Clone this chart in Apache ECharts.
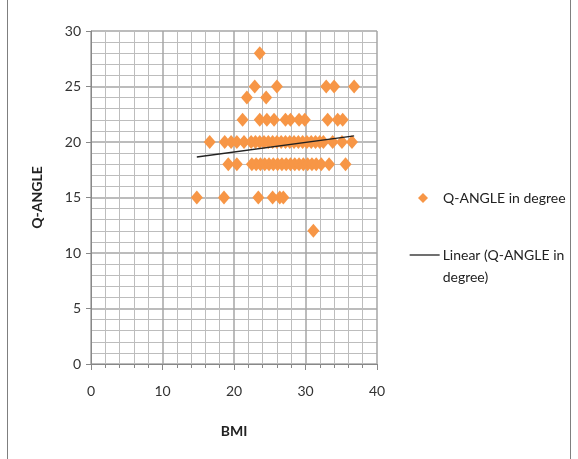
<!DOCTYPE html>
<html>
<head>
<meta charset="utf-8">
<script src="https://cdn.jsdelivr.net/npm/echarts@6/dist/echarts.min.js"></script>
<style>
html,body{margin:0;padding:0;background:#fff;}
#chart{width:578px;height:459px;}
</style>
</head>
<body>
<div id="chart"></div>
<script>
// BMI values (x) grouped by Q-angle rows
const bmiValues = [
  23.6,
  22.9, 26.0, 32.9, 34.0, 36.8,
  21.8, 24.5,
  21.2, 23.6, 24.6, 25.6, 27.2, 27.9, 29.1, 29.9, 33.1, 34.5, 35.2,
  16.6, 18.7, 19.6, 20.4, 21.4, 22.4, 23.0, 23.6, 24.2, 24.8, 25.4, 26.0, 26.6, 27.2, 27.8, 28.4, 29.0, 29.6, 30.2, 30.8, 31.4, 32.0, 32.5, 33.8, 35.1, 36.5,
  19.2, 20.4, 22.5, 23.1, 23.7, 24.3, 24.9, 25.5, 26.1, 26.7, 27.3, 27.9, 28.5, 29.1, 29.7, 30.3, 30.9, 31.5, 32.2, 33.3, 35.6,
  14.8, 18.6, 23.4, 25.4, 26.4, 26.9,
  31.1
];
// Q-angle values (y)
const qAngleValues = [
  28,
  25, 25, 25, 25, 25,
  24, 24,
  22, 22, 22, 22, 22, 22, 22, 22, 22, 22, 22,
  20, 20, 20, 20, 20, 20, 20, 20, 20, 20, 20, 20, 20, 20, 20, 20, 20, 20, 20, 20, 20, 20, 20, 20, 20, 20,
  18, 18, 18, 18, 18, 18, 18, 18, 18, 18, 18, 18, 18, 18, 18, 18, 18, 18, 18, 18, 18,
  15, 15, 15, 15, 15, 15,
  12
];
// Linear trend line endpoints
const trendBmi = [14.8, 36.8];
const trendQ = [18.65, 20.55];
// Axis ticks
const xTicks = [0, 10, 20, 30, 40];
const yTicks = [0, 5, 10, 15, 20, 25, 30];

const seriesName = 'Q-ANGLE in degree';
const trendName = 'Linear (Q-ANGLE in\ndegree)';

const scatterData = bmiValues.map((b, i) => [b, qAngleValues[i]]);
const trendData = trendBmi.map((b, i) => [b, trendQ[i]]);

const font = 'Lato, "Open Sans", sans-serif';
const chart = echarts.init(document.getElementById('chart'), null, {renderer: 'canvas'});
chart.setOption({
  animation: false,
  backgroundColor: '#fff',
  textStyle: {fontFamily: font},
  grid: {left: 91, top: 31, width: 286, height: 333, containLabel: false},
  graphic: [{
    type: 'rect', shape: {x: 7.5, y: -2, width: 563, height: 470},
    style: {fill: 'none', stroke: '#7f7f7f', lineWidth: 1}, silent: true, z: 0
  }],
  xAxis: {
    type: 'value', min: xTicks[0], max: xTicks[xTicks.length - 1], interval: 10,
    name: 'BMI', nameLocation: 'middle', nameGap: 60,
    nameTextStyle: {fontFamily: font, fontWeight: 'bold', fontSize: 14, color: '#222'},
    axisLine: {show: true, onZero: false, lineStyle: {color: '#888', width: 1}},
    axisTick: {show: true, length: 6, lineStyle: {color: '#888'}},
    minorTick: {show: true, splitNumber: 5, length: 4, lineStyle: {color: '#888'}},
    axisLabel: {fontFamily: font, fontSize: 14, color: '#333', margin: 20},
    splitLine: {show: true, lineStyle: {color: '#a6a6a6', width: 1.5}},
    minorSplitLine: {show: true, lineStyle: {color: '#bdbdbd', width: 1}}
  },
  yAxis: {
    type: 'value', min: yTicks[0], max: yTicks[yTicks.length - 1], interval: 5,
    name: 'Q-ANGLE', nameLocation: 'middle', nameGap: 47, nameRotate: 90,
    nameTextStyle: {fontFamily: font, fontWeight: 'bold', fontSize: 14, color: '#222'},
    axisLine: {show: true, lineStyle: {color: '#888', width: 1}},
    axisTick: {show: true, length: 5, lineStyle: {color: '#888'}},
    axisLabel: {fontFamily: font, fontSize: 14, color: '#333', margin: 10},
    splitLine: {show: true, lineStyle: {color: '#a6a6a6', width: 1.5}},
    minorTick: {show: false, splitNumber: 5},
    minorSplitLine: {show: true, lineStyle: {color: '#bdbdbd', width: 1}}
  },
  legend: [{
    data: [seriesName], orient: 'vertical', left: 418, top: 188, padding: 0,
    itemWidth: 10, itemHeight: 10, icon: 'diamond',
    textStyle: {fontFamily: font, fontSize: 14, color: '#222', lineHeight: 20, padding: [0, 0, 0, 10]}
  }, {
    data: [trendName], orient: 'vertical', left: 409, top: 222, padding: 0,
    itemWidth: 30, itemHeight: 10,
    itemStyle: {opacity: 0},
    lineStyle: {color: '#222', width: 1.3},
    formatter: name => ' \n' + name,
    textStyle: {fontFamily: font, fontSize: 14, color: '#222', lineHeight: 22, padding: [0, 0, 0, -2]}
  }],
  series: [{
    name: seriesName, type: 'scatter', data: scatterData,
    symbol: 'diamond', symbolSize: [12, 14],
    itemStyle: {color: '#F79646', opacity: 1}, z: 3
  }, {
    name: trendName, type: 'line', data: trendData,
    symbol: 'none', showSymbol: false,
    lineStyle: {color: '#222', width: 1.3}, itemStyle: {color: '#222'}, z: 4
  }]
});
</script>
</body>
</html>
